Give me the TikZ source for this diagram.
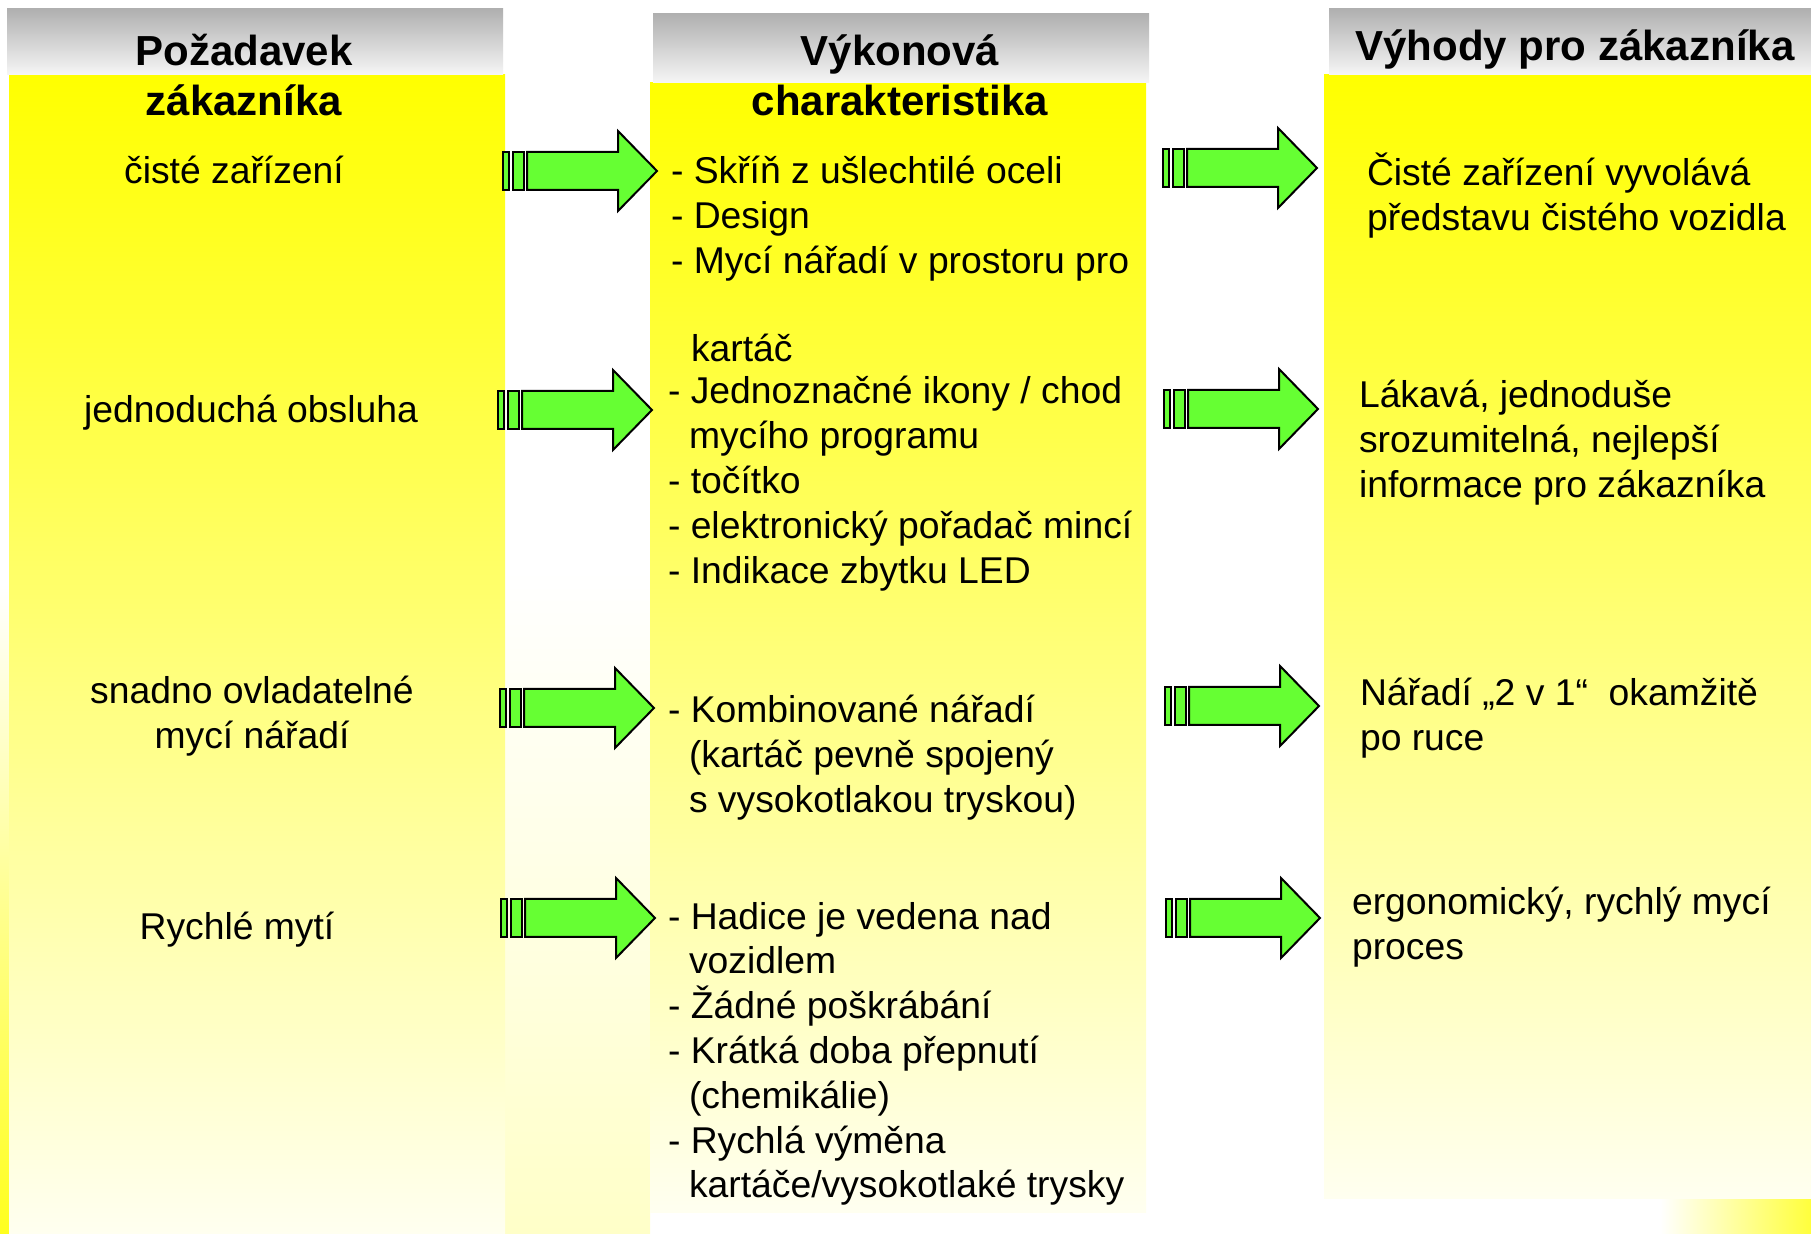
\documentclass[tikz,border=0pt]{standalone}
\usepackage{fontspec}
\setmainfont{Liberation Sans}
\definecolor{ylw}{RGB}{255,255,0}
\definecolor{ylwend}{RGB}{255,255,240}
\definecolor{hdtop}{RGB}{176,176,176}
\definecolor{hdbot}{RGB}{246,246,246}
\definecolor{arrowgreen}{RGB}{102,255,51}
\definecolor{gapylw}{RGB}{255,255,200}
\definecolor{stripylw}{RGB}{255,255,30}
\definecolor{cornerylw}{RGB}{255,255,60}
\newcommand\tstrut{\rule{0pt}{20pt}}
\newcommand\hstrut{\rule{0pt}{22pt}}
\newcommand\ind{\hspace*{10.5pt}}
\begin{document}
\begin{tikzpicture}[x=0.5pt,y=-0.5pt,
  bodytext/.style={font=\fontsize{18.65}{22.4}\selectfont, inner sep=0pt, outer sep=0pt, align=left, anchor=north west},
  centertext/.style={font=\fontsize{18.65}{22.4}\selectfont, inner sep=0pt, outer sep=0pt, align=center, anchor=north},
  headtext/.style={font=\fontsize{21}{25}\selectfont\bfseries, inner sep=0pt, outer sep=0pt, align=center, anchor=north},
  colshade/.style={top color=ylw, bottom color=ylwend},
  headshade/.style={top color=hdtop, bottom color=hdbot},
  arrowline/.style={draw=black, fill=arrowgreen, line width=1pt, line join=miter},
  blockarrow/.pic={
    \draw[arrowline] (0,-19) rectangle (6,19);
    \draw[arrowline] (10,-19) rectangle (21,19);
    \draw[arrowline] (24,-19) -- (115,-19) -- (115,-40) -- (154,0) -- (115,40) -- (115,19) -- (24,19) -- cycle;
  }]
\useasboundingbox (0,0) rectangle (1811,1234);
\fill[white] (0,0) rectangle (1811,1234);
% background tints
\shade[top color=white, bottom color=gapylw] (505,570) rectangle (650,1234);
\shade[top color=white, bottom color=stripylw] (0,584) rectangle (9,1234);
\shade[left color=white, right color=cornerylw] (1660,1198) rectangle (1811,1234);
% columns
\shade[colshade] (9,75) rectangle (505,1234);
\shade[colshade] (650,83) rectangle (1146,1212);
\shade[colshade] (1324,75) rectangle (1811,1198);
% headers
\shade[headshade] (7,9) rectangle (503,75);
\shade[headshade] (653,14) rectangle (1149,83);
\shade[headshade] (1329,9) rectangle (1811,75);
\node[headtext] (h1) at (244,22) {\hstrut Požadavek\\zákazníka};
\node[headtext] (h2) at (900,22) {\hstrut Výkonová\\charakteristika};
\node[headtext] (h3) at (1575,17) {\hstrut Výhody pro zákazníka};
% left column
\node[centertext] (l1) at (234,144) {\tstrut čisté zařízení};
\node[centertext] (l2) at (251,383) {\tstrut jednoduchá obsluha};
\node[centertext] (l3) at (252,664) {\tstrut snadno ovladatelné\\mycí nářadí};
\node[centertext] (l4) at (237,900) {\tstrut Rychlé mytí};
% middle column
\node[bodytext] (m1) at (671,144) {\tstrut - Skříň z ušlechtilé oceli\\- Design\\- Mycí nářadí v prostoru pro};
\node[bodytext] (m1b) at (691,322) {\tstrut kartáč};
\node[bodytext] (m2) at (668,364) {\tstrut - Jednoznačné ikony / chod\\\ind mycího programu\\- točítko\\- elektronický pořadač mincí\\- Indikace zbytku LED};
\node[bodytext] (m3) at (668,683) {\tstrut - Kombinované nářadí\\\ind (kartáč pevně spojený\\\ind s vysokotlakou tryskou)};
\node[bodytext] (m4) at (668,889) {\tstrut - Hadice je vedena nad\\\ind vozidlem\\- Žádné poškrábání\\- Krátká doba přepnutí\\\ind (chemikálie)\\- Rychlá výměna\\\ind kartáče/vysokotlaké trysky};
% right column
\node[bodytext] (r1) at (1367,146) {\tstrut Čisté zařízení vyvolává\\představu čistého vozidla};
\node[bodytext] (r2) at (1359,368) {\tstrut Lákavá, jednoduše\\srozumitelná, nejlepší\\informace pro zákazníka};
\node[bodytext] (r3) at (1360,666) {\tstrut Nářadí „2 v 1“~~okamžitě\\po ruce};
\node[bodytext] (r4) at (1352,875) {\tstrut ergonomický, rychlý mycí\\proces};
% arrows
\pic (al1) at (503,171) {blockarrow};
\pic (al2) at (498,410) {blockarrow};
\pic (al3) at (500,708) {blockarrow};
\pic (al4) at (501,918) {blockarrow};
\pic (ar1) at (1163,168) {blockarrow};
\pic (ar2) at (1164,409) {blockarrow};
\pic (ar3) at (1165,706) {blockarrow};
\pic (ar4) at (1166,918) {blockarrow};
\end{tikzpicture}
\end{document}
